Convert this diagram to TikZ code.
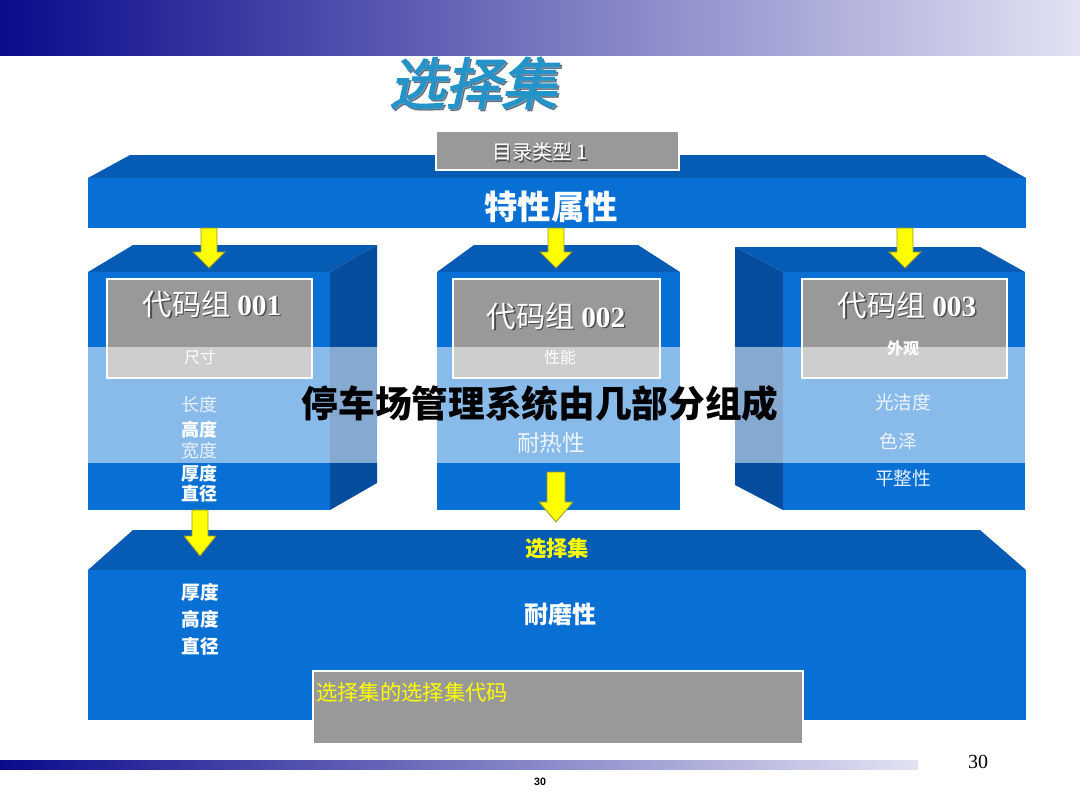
\documentclass[tikz,border=0pt]{standalone}
\usepackage{fontspec}
\setmainfont{Liberation Serif}
\setsansfont{Liberation Sans}
\newfontfamily\cjk{Noto Sans CJK SC}
\newfontfamily\cjktitle[FakeSlant=0.22,FakeBold=2]{Noto Sans CJK SC}
\usepackage{tikz}

\definecolor{navyband}{RGB}{10,10,140}
\definecolor{midband}{RGB}{125,125,188}
\definecolor{paleband}{RGB}{226,226,243}
\definecolor{frontblue}{RGB}{8,112,212}
\definecolor{topblue}{RGB}{6,92,180}
\definecolor{sideblue}{RGB}{4,76,158}
\definecolor{boxgray}{RGB}{153,153,153}
\definecolor{titleblue}{RGB}{35,148,202}
\definecolor{titleshadow}{RGB}{25,55,85}
\definecolor{arrowyellow}{RGB}{255,255,0}
\definecolor{arrowedge}{RGB}{150,150,40}

\begin{document}
\begin{tikzpicture}[x=0.75pt,y=0.75pt,yscale=-1,xscale=1,
	front/.style={fill=frontblue},
	topface/.style={fill=topblue},
	sideface/.style={fill=sideblue},
	graybox/.style={fill=boxgray, draw=white, line width=1.5},
	yarrow/.style={fill=arrowyellow, draw=arrowedge, line width=0.6},
	wtext/.style={text=white, inner sep=0.75pt},
	shadowtext/.style={text=black!70, inner sep=0.75pt},
	codefont/.style={font=\cjk\fontsize{22}{22}\selectfont},
	smallfont/.style={font=\cjk\fontsize{12}{12}\selectfont},
	itemfont/.style={font=\cjk\fontsize{13.5}{13.5}\selectfont},
	itembold/.style={font=\cjk\bfseries\fontsize{13.5}{13.5}\selectfont}]
	\useasboundingbox (0,0) rectangle (1080,810);
	
	%Shape: Top Band
	\shade [left color=navyband, middle color=midband, right color=paleband] (0,0) rectangle (1080,55) ;
	%Shape: Bottom Band
	\shade [left color=navyband, middle color=midband, right color=paleband] (0,760) rectangle (918,769) ;
	
	% Text Node
	\draw (475,85) node (ttlshadow) [text=titleshadow, opacity=0.55, inner sep=0.75pt] {\cjktitle\fontsize{42}{42}\selectfont 选择集};
	% Text Node
	\draw (473,83) node (ttl) [text=titleblue, inner sep=0.75pt] {\cjktitle\fontsize{42}{42}\selectfont 选择集};
	
	%Shape: Top Slab
	\fill [topface] (88,178) -- (130,155) -- (985,155) -- (1026,178) -- cycle ;
	\fill [front] (88,178) rectangle (1026,228) ;
	%Shape: Catalogue Label
	\draw [graybox, line width=1] (436,131) rectangle (679,170) ;
	% Text Node
	\draw (541.5,153.5) node (catshadow) [shadowtext] {\cjk\fontsize{15}{15}\selectfont 目录类型 1};
	\draw (540,152) node (cat) [wtext] {\cjk\fontsize{15}{15}\selectfont 目录类型 1};
	% Text Node
	\draw (551,207) node (attr) [wtext] {\cjk\bfseries\fontsize{25}{25}\selectfont 特性属性};
	
	%Shape: Left Cube
	\fill [topface] (88,272) -- (133,245) -- (377,245) -- (330,272) -- cycle ;
	\fill [sideface] (330,272) -- (377,245) -- (377,483) -- (330,510) -- cycle ;
	\fill [front] (88,272) rectangle (330,510) ;
	\draw [graybox] (107,279) rectangle (312,378) ;
	
	%Shape: Middle Cube
	\fill [topface] (437,272) -- (474,245) -- (638,245) -- (680,272) -- cycle ;
	\fill [front] (437,272) rectangle (680,510) ;
	\draw [graybox] (453,279) rectangle (660,378) ;
	
	%Shape: Right Cube
	\fill [topface] (735,247) -- (980,247) -- (1025,272) -- (783,272) -- cycle ;
	\fill [sideface] (735,247) -- (783,272) -- (783,510) -- (735,485) -- cycle ;
	\fill [front] (783,272) rectangle (1025,510) ;
	\draw [graybox] (802,279) rectangle (1007,378) ;
	
	%Shape: Bottom Slab
	\fill [topface] (88,570) -- (133,530) -- (980,530) -- (1026,570) -- cycle ;
	\fill [front] (88,570) rectangle (1026,720) ;
	\draw [graybox] (313,671) rectangle (803,744) ;
	
	%Shape: Down Arrows
	\draw [yarrow, shift={(209,228)}] (-8,0) -- (8,0) -- (8,24) -- (16,24) -- (0,40) -- (-16,24) -- (-8,24) -- cycle ;
	\draw [yarrow, shift={(556,228)}] (-8,0) -- (8,0) -- (8,24) -- (16,24) -- (0,40) -- (-16,24) -- (-8,24) -- cycle ;
	\draw [yarrow, shift={(905,228)}] (-8,0) -- (8,0) -- (8,24) -- (16,24) -- (0,40) -- (-16,24) -- (-8,24) -- cycle ;
	\draw [yarrow, shift={(556,472)}] (-9,0) -- (9,0) -- (9,30) -- (17,30) -- (0,50) -- (-17,30) -- (-9,30) -- cycle ;
	\draw [yarrow, shift={(200,510)}] (-8,0) -- (8,0) -- (8,26) -- (16,26) -- (0,46) -- (-16,26) -- (-8,26) -- cycle ;
	
	%Shape: Light Band
	\fill [white, fill opacity=0.52] (88,347) rectangle (1026,463) ;
	
	% Text Node
	\draw (213.5,305.5) node (grpAshadow) [shadowtext, codefont] {代码组 {\rmfamily\bfseries 001}};
	\draw (212,304) node (grpA) [wtext, codefont] {代码组 {\rmfamily\bfseries 001}};
	% Text Node
	\draw (200,357) node (size) [wtext, smallfont] {尺寸};
	% Text Node
	\draw (199,405) node (len) [wtext, itemfont, opacity=0.8] {长度};
	\draw (199,430) node (high) [wtext, itembold] {高度};
	\draw (199,451) node (wid) [wtext, itemfont, opacity=0.8] {宽度};
	\draw (199,474) node (thick) [wtext, itembold] {厚度};
	\draw (199,494) node (diam) [wtext, itembold] {直径};
	
	% Text Node
	\draw (557.5,317.5) node (grpBshadow) [shadowtext, codefont] {代码组 {\rmfamily\bfseries 002}};
	\draw (556,316) node (grpB) [wtext, codefont] {代码组 {\rmfamily\bfseries 002}};
	% Text Node
	\draw (560,357) node (perf) [wtext, smallfont] {性能};
	% Text Node
	\draw (551,443) node (heat) [wtext, opacity=0.85, font=\cjk\fontsize{17}{17}\selectfont] {耐热性};
	
	% Text Node
	\draw (908.5,306.5) node (grpCshadow) [shadowtext, codefont] {代码组 {\rmfamily\bfseries 003}};
	\draw (907,305) node (grpC) [wtext, codefont] {代码组 {\rmfamily\bfseries 003}};
	% Text Node
	\draw (903,348) node (look) [wtext, font=\cjk\bfseries\fontsize{12}{12}\selectfont] {外观};
	% Text Node
	\draw (903,402) node (gloss) [wtext, opacity=0.85, font=\cjk\fontsize{14}{14}\selectfont] {光洁度};
	\draw (898,441) node (luster) [wtext, opacity=0.85, font=\cjk\fontsize{14}{14}\selectfont] {色泽};
	\draw (903,478) node (flat) [wtext, opacity=0.9, font=\cjk\fontsize{14}{14}\selectfont] {平整性};
	
	% Text Node
	\draw (557,548) node (selset) [text=arrowyellow, inner sep=0.75pt, font=\cjk\bfseries\fontsize{16}{16}\selectfont] {选择集};
	% Text Node
	\draw (200,592) node (bthick) [wtext, font=\cjk\bfseries\fontsize{14}{14}\selectfont] {厚度};
	\draw (200,619) node (bhigh) [wtext, font=\cjk\bfseries\fontsize{14}{14}\selectfont] {高度};
	\draw (200,646) node (bdiam) [wtext, font=\cjk\bfseries\fontsize{14}{14}\selectfont] {直径};
	% Text Node
	\draw (560,614) node (wear) [wtext, font=\cjk\bfseries\fontsize{18}{18}\selectfont] {耐磨性};
	% Text Node
	\draw (315,692) node (code) [anchor=west, text=arrowyellow, inner sep=0.75pt, font=\cjk\fontsize{16}{16}\selectfont] {选择集的选择集代码};
	
	% Text Node
	\draw (978,762) node (page) [inner sep=0.75pt, font=\rmfamily\fontsize{15}{15}\selectfont] {30};
	\draw (540,782) node (pagesmall) [inner sep=0.75pt, font=\sffamily\bfseries\fontsize{8}{8}\selectfont] {30};
	
	% Text Node
	\draw (540,404) node (mark) [inner sep=0.75pt, font=\cjk\bfseries\fontsize{27.5}{27.5}\selectfont] {停车场管理系统由几部分组成};
	
\end{tikzpicture}
\end{document}
